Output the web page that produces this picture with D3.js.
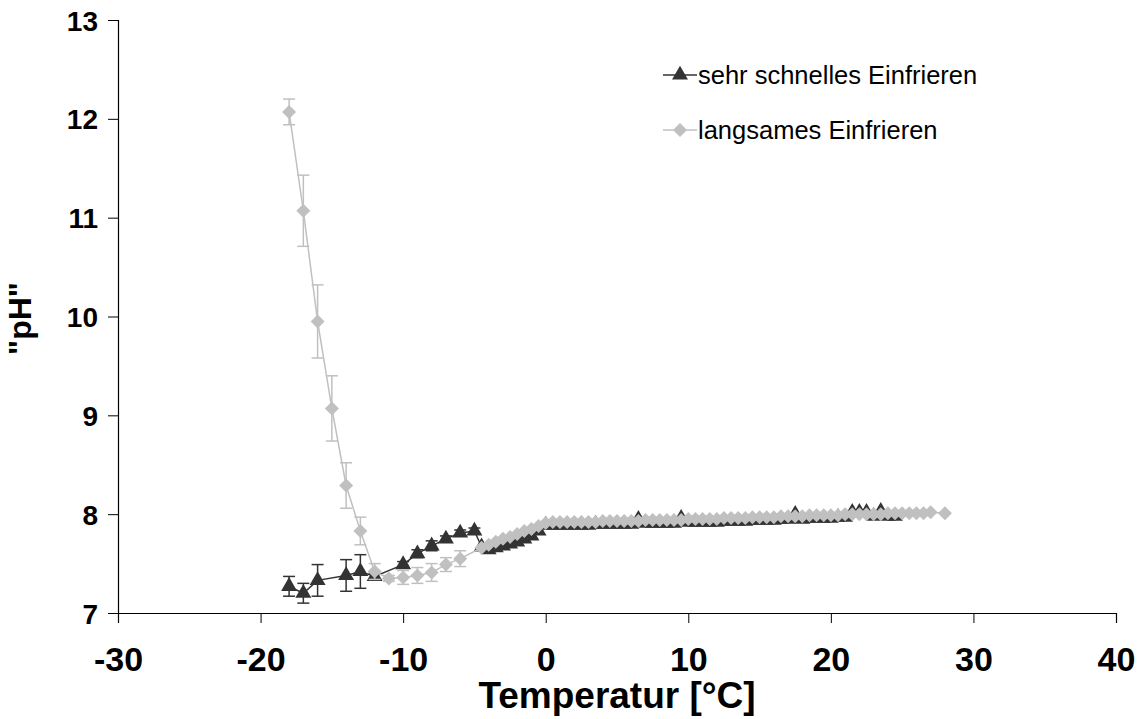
<!DOCTYPE html>
<html><head><meta charset="utf-8">
<script src="https://cdn.jsdelivr.net/npm/d3@7/dist/d3.min.js"></script>
<style>body{margin:0;background:#fff}svg{display:block}text{font-family:"Liberation Sans",Arial,sans-serif}</style>
</head><body><svg id="c" width="1138" height="719"></svg>
<script>
// ---- data ----
const seriesNames = ["sehr schnelles Einfrieren", "langsames Einfrieren"];
const xTicks = [-30, -20, -10, 0, 10, 20, 30, 40];
const yTicks = [7, 8, 9, 10, 11, 12, 13];

// sehr schnelles Einfrieren (dark, triangles)
const fastX = [-18,-17,-16,-14,-13,-12,-10,-9,-8,-7,-6,-5,
  -4.5,-4,-3.5,-3,-2.5,-2,-1.5,-1,-0.5,0,
  0.5,1,1.5,2,2.5,3,3.5,4,4.5,5,5.5,6,6.5,7,7.5,8,8.5,9,9.5,10,
  10.5,11,11.5,12,12.5,13,13.5,14,14.5,15,15.5,16,16.5,17,17.5,18,18.5,19,19.5,20,
  20.5,21,21.5,22,22.5,23,23.5,24,24.5];
const fastY = [7.27,7.20,7.33,7.38,7.42,7.37,7.49,7.60,7.68,7.75,7.81,7.83,
  7.67,7.64,7.66,7.68,7.70,7.72,7.75,7.78,7.83,7.89,
  7.89,7.89,7.89,7.89,7.89,7.89,7.90,7.90,7.90,7.90,7.90,7.90,7.95,7.91,7.91,7.91,7.91,7.91,7.96,7.92,
  7.92,7.92,7.92,7.92,7.93,7.93,7.93,7.93,7.94,7.94,7.94,7.94,7.95,7.95,8.00,7.95,7.96,7.96,7.96,7.96,
  7.97,7.97,8.02,8.02,8.02,7.98,8.03,7.98,7.98];
const fastErr = [0.10,0.10,0.16,0.16,0.17,0.03,0.03,0.04,0.05,0.03,0.03,0.03,
  0,0,0,0,0,0,0,0,0,0,
  0,0,0,0,0,0,0,0,0,0,0,0,0,0,0,0,0,0,0,0,
  0,0,0,0,0,0,0,0,0,0,0,0,0,0,0,0,0,0,0,0,
  0,0,0,0,0,0,0,0,0];

// langsames Einfrieren (light grey, diamonds)
const slowX = [-18,-17,-16,-15,-14,-13,-12,-11,-10,-9,-8,-7,-6,
  -4.5,-4,-3.5,-3,-2.5,-2,-1.5,-1,-0.5,0,
  0.5,1,1.5,2,2.5,3,3.5,4,4.5,5,5.5,6,6.5,7,7.5,8,8.5,9,9.5,10,
  10.5,11,11.5,12,12.5,13,13.5,14,14.5,15,15.5,16,16.5,17,17.5,18,18.5,19,19.5,20,
  20.5,21,21.5,22,22.5,23,23.5,24,24.5,25,25.5,26,26.5,27,28];
const slowY = [12.07,11.07,9.95,9.07,8.29,7.83,7.42,7.35,7.36,7.38,7.41,7.49,7.55,
  7.66,7.69,7.72,7.75,7.77,7.80,7.83,7.85,7.88,7.91,
  7.92,7.92,7.92,7.92,7.92,7.92,7.92,7.93,7.93,7.93,7.93,7.93,7.93,7.94,7.94,7.94,7.94,7.94,7.94,7.95,
  7.95,7.95,7.95,7.95,7.96,7.96,7.96,7.96,7.97,7.97,7.97,7.97,7.98,7.98,7.98,7.98,7.99,7.99,7.99,7.99,
  7.99,8.00,8.00,8.00,8.00,8.00,8.00,8.01,8.01,8.01,8.01,8.01,8.01,8.02,8.01];
const slowErr = [0.13,0.36,0.37,0.33,0.23,0.14,0.08,0.03,0.07,0.08,0.09,0.07,0.08,
  0,0,0,0,0,0,0,0,0,0,
  0,0,0,0,0,0,0,0,0,0,0,0,0,0,0,0,0,0,0,0,
  0,0,0,0,0,0,0,0,0,0,0,0,0,0,0,0,0,0,0,0,
  0,0,0,0,0,0,0,0,0,0,0,0,0,0,0];

// ---- drawing ----
const svg = d3.select("#c");
const L = 118, R = 1116, T = 20, B = 613;
const x = d3.scaleLinear().domain([-30, 40]).range([L, R]);
const y = d3.scaleLinear().domain([7, 13]).range([B, T]);
const darkCol = "#333333", lightCol = "#c0c0c0";
const fmt = d => String(d);

const xAxis = svg.append("g").attr("transform", `translate(0,${B})`)
  .call(d3.axisBottom(x).tickValues(xTicks).tickSize(10).tickPadding(24).tickFormat(fmt));
const yAxis = svg.append("g").attr("transform", `translate(${L},0)`)
  .call(d3.axisLeft(y).tickValues(yTicks).tickSize(10).tickPadding(10).tickFormat(fmt));
[xAxis, yAxis].forEach(g => {
  g.select(".domain").attr("stroke", "#000").attr("stroke-width", 1.2);
  g.selectAll(".tick line").attr("stroke", "#000").attr("stroke-width", 1);
  g.selectAll(".tick text").attr("fill", "#000").style("font-weight", "bold")
    .style("font-family", '"Liberation Sans", Arial, sans-serif');
});
xAxis.selectAll(".tick text").style("font-size", "34px");
yAxis.selectAll(".tick text").style("font-size", "28px").attr("dy", "0.36em");

svg.append("text").attr("x", (L + R) / 2).attr("y", 708).attr("text-anchor", "middle")
  .style("font-size", "37px").style("font-weight", "bold").text("Temperatur [°C]");
svg.append("text").attr("transform", `translate(31,${(T + B) / 2 + 2}) rotate(-90)`).attr("text-anchor", "middle")
  .style("font-size", "32px").style("font-weight", "bold").text('"pH"');

const tri = d3.symbol().type(d3.symbolTriangle).size(110);
const dia = d3.symbol().type(d3.symbolSquare).size(98);

function drawSeries(xs, ys, es, col, sym, rot, lw) {
  const pts = xs.map((v, i) => ({x: v, y: ys[i], e: es[i]}));
  const g = svg.append("g");
  g.append("path").datum(pts)
    .attr("d", d3.line().x(d => x(d.x)).y(d => y(d.y)))
    .attr("fill", "none").attr("stroke", col).attr("stroke-width", lw);
  const eb = g.selectAll(".eb").data(pts.filter(d => d.e > 0)).enter().append("g");
  eb.append("line").attr("x1", d => x(d.x)).attr("x2", d => x(d.x))
    .attr("y1", d => y(d.y - d.e)).attr("y2", d => y(d.y + d.e)).attr("stroke", col).attr("stroke-width", 1.5);
  [1, -1].forEach(s => eb.append("line")
    .attr("x1", d => x(d.x) - 6).attr("x2", d => x(d.x) + 6)
    .attr("y1", d => y(d.y + s * d.e)).attr("y2", d => y(d.y + s * d.e)).attr("stroke", col).attr("stroke-width", 1.5));
  g.selectAll(".m").data(pts).enter().append("path")
    .attr("d", sym).attr("transform", d => `translate(${x(d.x)},${y(d.y)}) rotate(${rot})`).attr("fill", col);
}
drawSeries(fastX, fastY, fastErr, darkCol, tri, 0, 1.5);
drawSeries(slowX, slowY, slowErr, lightCol, dia, 45, 1.5);

// legend
const leg = [{name: seriesNames[0], col: darkCol, sym: tri, rot: 0, yy: 75},
             {name: seriesNames[1], col: lightCol, sym: dia, rot: 45, yy: 130}];
leg.forEach(l => {
  svg.append("line").attr("x1", 663).attr("x2", 697).attr("y1", l.yy).attr("y2", l.yy)
    .attr("stroke", l.col).attr("stroke-width", 1.5);
  svg.append("path").attr("d", l.sym).attr("transform", `translate(680,${l.yy}) rotate(${l.rot})`).attr("fill", l.col);
  svg.append("text").attr("x", 698).attr("y", l.yy + 9).style("font-size", "25.5px").attr("fill", "#000").text(l.name);
});
</script></body></html>
